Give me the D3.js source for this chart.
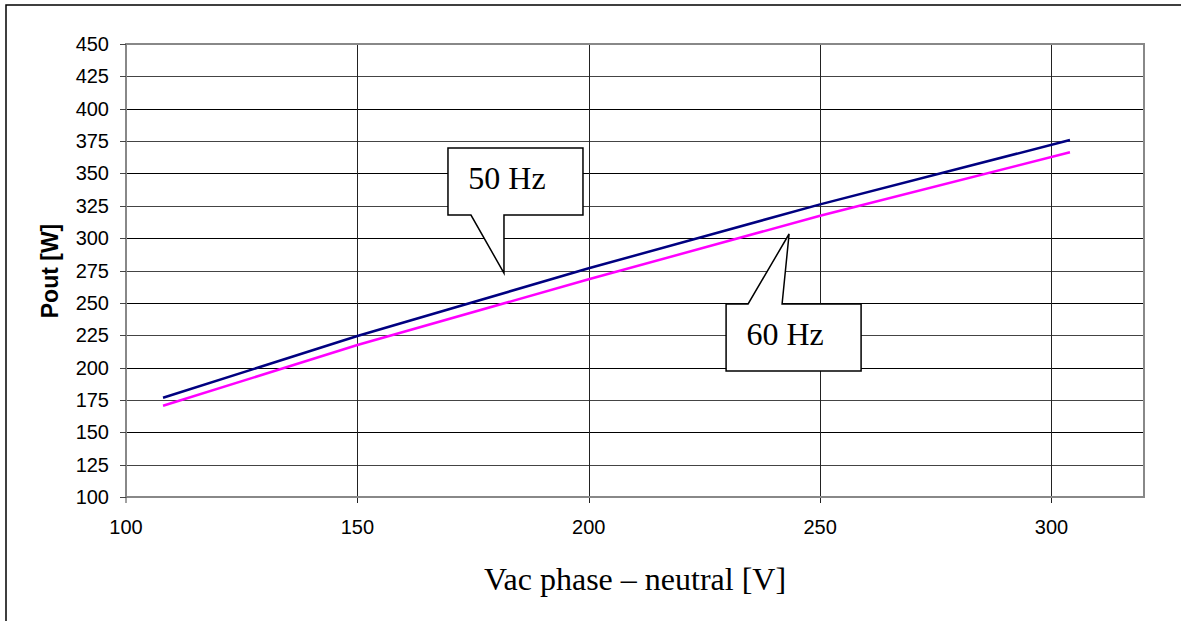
<!DOCTYPE html>
<html>
<head>
<meta charset="utf-8">
<script src="https://cdn.jsdelivr.net/npm/d3@7"></script>
<style>
  body { margin: 0; background: #fff; }
  .tick-label { font-family: Arial, "Liberation Sans", sans-serif; font-size: 20px; fill: #000; }
  .serif { font-family: "Times New Roman", "Liberation Serif", serif; fill: #000; }
</style>
</head>
<body>
<div id="main"></div>
<script>
// data
var vac = [108, 150, 200, 250, 304];
var pout50 = [176.7, 224.4, 276.7, 326.1, 375.8];
var pout60 = [170.5, 217.4, 268.2, 317.3, 366.3];

var xTicks = [100, 150, 200, 250, 300];
var yTicks = [100, 125, 150, 175, 200, 225, 250, 275, 300, 325, 350, 375, 400, 425, 450];

var callouts = [
  { label: '50 Hz', x: 181.9, y: 273 },
  { label: '60 Hz', x: 243.3, y: 303.2 }
];

// layout
var svgWidth = 1181;
var svgHeight = 621;
var plot = { l: 126, t: 44, r: 1144, b: 497 };

var svg = d3.select('#main')
  .append('svg')
  .attr('width', svgWidth)
  .attr('height', svgHeight);

// outer frame (left and top edges visible)
svg.append('rect')
  .attr('x', 6).attr('y', 5)
  .attr('width', svgWidth + 10).attr('height', svgHeight + 10)
  .attr('fill', 'none').attr('stroke', '#000').attr('stroke-width', 1.5);

var xScale = d3.scaleLinear().domain([100, 320]).range([plot.l, plot.r]);
var yScale = d3.scaleLinear().domain([100, 450]).range([plot.b, plot.t]);

// gridlines
svg.append('g').selectAll('line')
  .data(yTicks.slice(1))
  .enter().append('line')
  .attr('x1', plot.l).attr('x2', plot.r)
  .attr('y1', (d) => Math.round(yScale(d)) + 0.5)
  .attr('y2', (d) => Math.round(yScale(d)) + 0.5)
  .attr('stroke', (d, i) => i % 2 ? '#000' : '#444')
  .attr('stroke-width', 1);

svg.append('g').selectAll('line')
  .data(xTicks.slice(1))
  .enter().append('line')
  .attr('x1', (d) => Math.round(xScale(d)) + 0.5)
  .attr('x2', (d) => Math.round(xScale(d)) + 0.5)
  .attr('y1', plot.t).attr('y2', plot.b + 6)
  .attr('stroke', '#222').attr('stroke-width', 1);

// plot area border (gray)
svg.append('rect')
  .attr('x', plot.l).attr('y', plot.t)
  .attr('width', plot.r - plot.l).attr('height', plot.b - plot.t)
  .attr('fill', 'none').attr('stroke', '#888').attr('stroke-width', 2);

// y axis ticks + labels
var yG = svg.append('g');
yG.selectAll('line')
  .data(yTicks)
  .enter().append('line')
  .attr('x1', plot.l - 6).attr('x2', plot.l)
  .attr('y1', (d) => Math.round(yScale(d)) + 0.5)
  .attr('y2', (d) => Math.round(yScale(d)) + 0.5)
  .attr('stroke', '#444');
yG.selectAll('text')
  .data(yTicks)
  .enter().append('text')
  .attr('class', 'tick-label')
  .attr('x', 109)
  .attr('y', (d) => yScale(d) + 7)
  .attr('text-anchor', 'end')
  .text((d) => d);

// x axis ticks + labels
var xG = svg.append('g');
xG.selectAll('line')
  .data([100])
  .enter().append('line')
  .attr('x1', (d) => xScale(d)).attr('x2', (d) => xScale(d))
  .attr('y1', plot.b).attr('y2', plot.b + 6)
  .attr('stroke', '#444');
xG.selectAll('text')
  .data(xTicks)
  .enter().append('text')
  .attr('class', 'tick-label')
  .attr('x', (d) => xScale(d))
  .attr('y', 534)
  .attr('text-anchor', 'middle')
  .text((d) => d);

// axis titles
svg.append('text')
  .attr('transform', 'translate(58, 271) rotate(-90)')
  .attr('text-anchor', 'middle')
  .style('font-family', 'Arial, "Liberation Sans", sans-serif')
  .style('font-size', '23px')
  .style('font-weight', 'bold')
  .text('Pout [W]');

svg.append('text')
  .attr('class', 'serif')
  .attr('x', (plot.l + plot.r) / 2)
  .attr('y', 590)
  .attr('text-anchor', 'middle')
  .style('font-size', '32px')
  .text('Vac phase \u2013 neutral [V]');

// series lines
var line = d3.line()
  .x((d) => xScale(d[0]))
  .y((d) => yScale(d[1]));

svg.append('path')
  .attr('d', line(vac.map((v, i) => [v, pout60[i]])))
  .attr('fill', 'none').attr('stroke', '#ff00ff').attr('stroke-width', 2.5);

svg.append('path')
  .attr('d', line(vac.map((v, i) => [v, pout50[i]])))
  .attr('fill', 'none').attr('stroke', '#000080').attr('stroke-width', 2.5);

// callouts
function drawCallout(c, above) {
  var tx = xScale(c.x), ty = yScale(c.y);
  var g = svg.append('g');
  var bx, by, bw = 135, bh = 67, path;
  if (above) {
    bx = tx - 57; by = ty - 125;
    var bb = by + bh;
    path = 'M' + bx + ',' + by + 'H' + (bx + bw) + 'V' + bb + 'H' + (tx - 1) + 'V' + ty +
      'L' + (tx - 34) + ',' + bb + 'H' + bx + 'Z';
  } else {
    bx = tx - 63; by = ty + 70;
    path = 'M' + bx + ',' + by + 'H' + (tx - 41) + 'L' + tx + ',' + ty + 'L' + (tx - 7) + ',' + by +
      'H' + (bx + bw) + 'V' + (by + bh) + 'H' + bx + 'Z';
  }
  g.append('path')
    .attr('d', path)
    .attr('fill', '#fff').attr('stroke', '#000').attr('stroke-width', 1.5)
    .attr('stroke-linejoin', 'miter');
  g.append('text')
    .attr('class', 'serif')
    .attr('x', bx + 59)
    .attr('y', by + 41)
    .attr('text-anchor', 'middle')
    .style('font-size', '32px')
    .text(c.label);
}
drawCallout(callouts[0], true);
drawCallout(callouts[1], false);
</script>
</body>
</html>
